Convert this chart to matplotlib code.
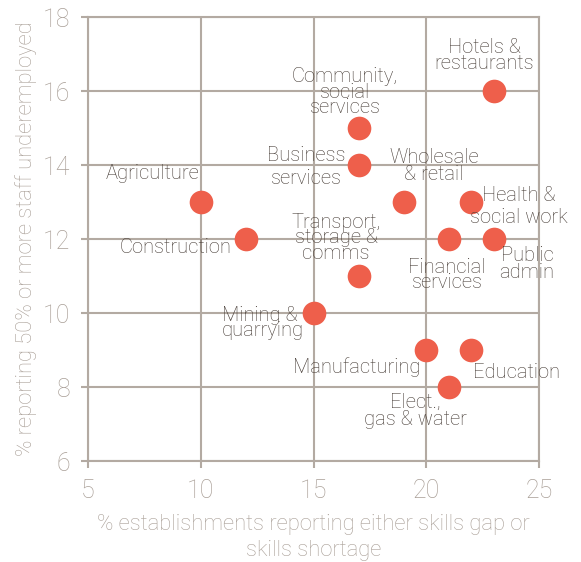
import matplotlib.pyplot as plt

plt.rcParams['font.family'] = ['Roboto', 'DejaVu Sans']

# sectors: skills gap/shortage (x) vs underemployment (y)
sectors = ['Hotels &\nrestaurants', 'Community,\nsocial\nservices', 'Business\nservices',
           'Wholesale\n& retail', 'Health &\nsocial work', 'Agriculture', 'Construction',
           'Financial\nservices', 'Public\nadmin', 'Transport,\nstorage &\ncomms',
           'Mining &\nquarrying', 'Manufacturing', 'Education', 'Elect.,\ngas & water']
skills_gap = [23, 17, 17, 19, 22, 10, 12, 21, 23, 17, 15, 20, 22, 21]
underemployed = [16, 15, 14, 13, 13, 13, 12, 12, 12, 11, 10, 9, 9, 8]

# label placement (data coords, alignment, line spacing)
label_pos = [(22.56, 16.95, 'center', 0.8), (16.40, 15.97, 'center', 0.75),
             (14.67, 13.95, 'center', 1.3), (20.34, 13.97, 'center', 0.85),
             (24.11, 12.89, 'center', 1.2), (7.88, 13.78, 'center', 1.0),
             (8.90, 11.76, 'center', 1.0), (20.92, 11.03, 'center', 0.75),
             (24.47, 11.32, 'center', 0.85), (16.0, 12.03, 'center', 0.75),
             (10.94, 9.73, 'left', 0.75), (16.93, 8.54, 'center', 1.0),
             (24.02, 8.38, 'center', 1.0), (19.50, 7.35, 'center', 0.85)]

grid_col = '#b3aaa2'
tick_col = '#a99f97'
text_col = '#463c36'
dot_col = '#ee5f4b'

fig = plt.figure(figsize=(5.81, 5.62), dpi=100)
ax = fig.add_axes([0.1515, 0.1797, 0.7763, 0.79])

ax.scatter(skills_gap, underemployed, s=290, color=dot_col, zorder=3, linewidths=0)

for name, (lx, ly, ha, ls) in zip(sectors, label_pos):
    ax.text(lx, ly, name, ha=ha, va='center', fontsize=14.5, color=text_col,
            fontweight='light', linespacing=ls, zorder=4)

ax.set_xlim(5, 25)
ax.set_ylim(6, 18)
ax.set_xticks([5, 10, 15, 20, 25])
ax.set_yticks([6, 8, 10, 12, 14, 16, 18])
ax.grid(True, color=grid_col, linewidth=1.5, zorder=0)
for sp in ax.spines.values():
    sp.set_color(grid_col)
    sp.set_linewidth(1.5)
ax.tick_params(colors=grid_col, width=1.5, length=5, labelsize=18, labelcolor=tick_col, pad=8)
for lab in ax.get_xticklabels() + ax.get_yticklabels():
    lab.set_fontweight('light')

ax.set_xlabel('% establishments reporting either skills gap or\nskills shortage',
              fontsize=15.8, color=tick_col, fontweight='light', linespacing=1.3, labelpad=8)
ax.set_ylabel('% reporting 50% or more staff underemployed',
              fontsize=15.8, color=tick_col, fontweight='light', labelpad=4)

fig.savefig('out.png', dpi=100, facecolor='white')
